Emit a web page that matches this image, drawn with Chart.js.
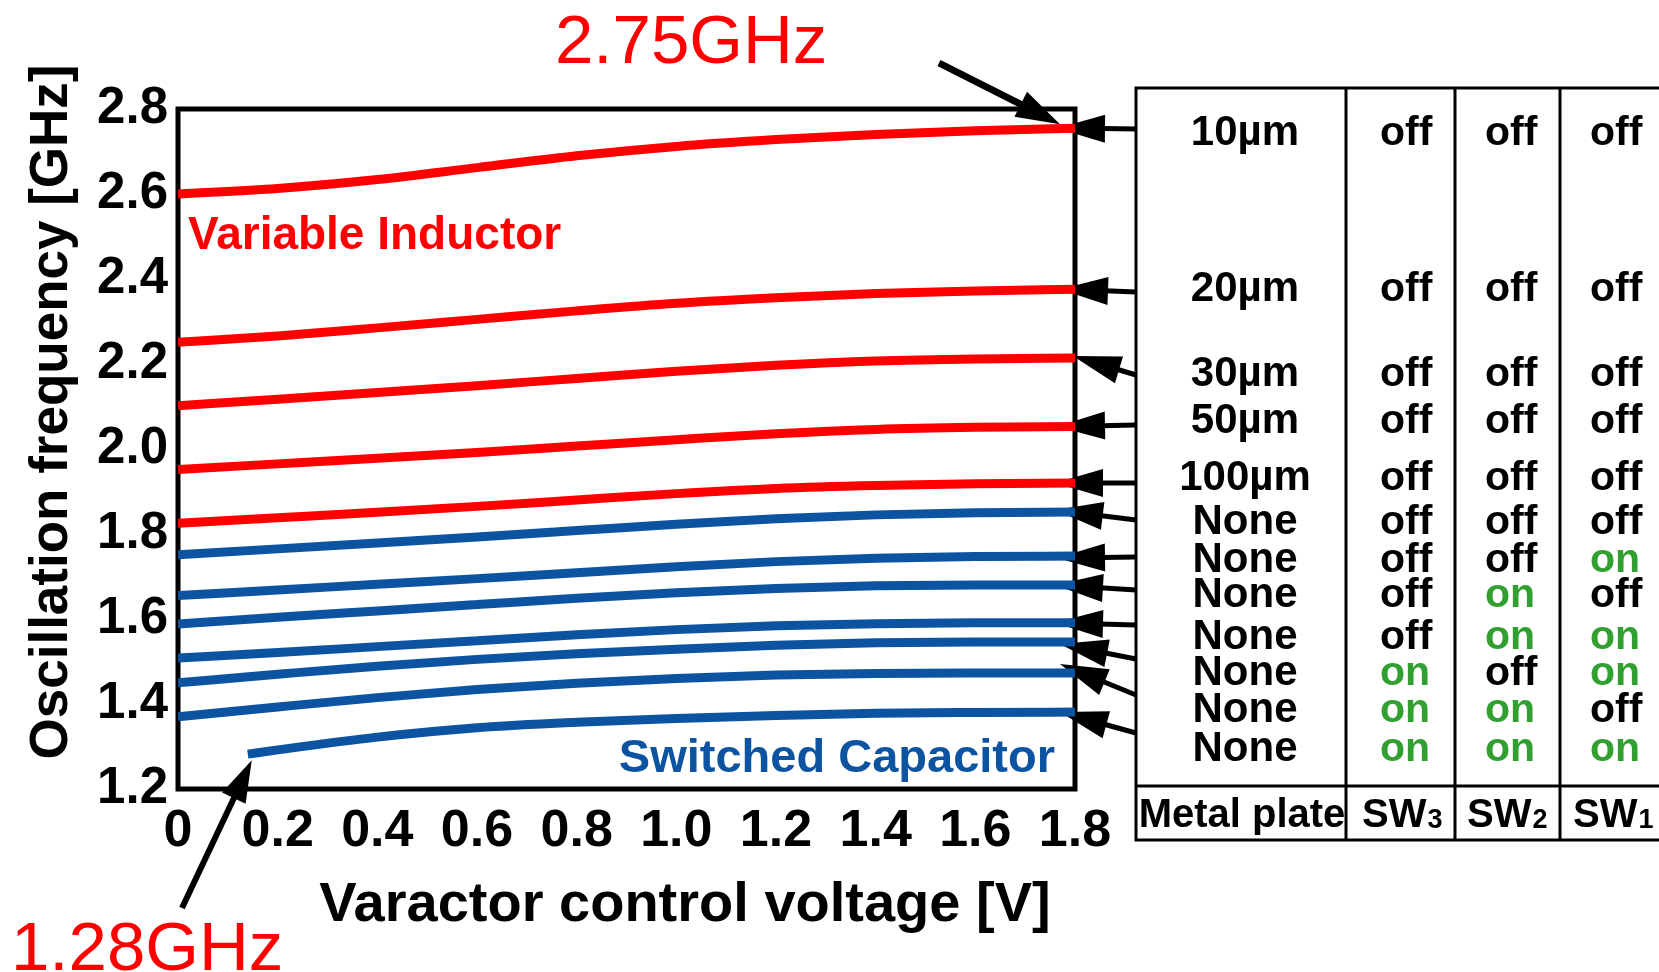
<!DOCTYPE html>
<html><head><meta charset="utf-8">
<script src="https://cdn.jsdelivr.net/npm/chart.js@4.4.0/dist/chart.umd.min.js"></script>
<style>html,body{margin:0;padding:0;background:#fff;overflow:hidden}canvas{display:block}</style>
</head><body>
<canvas id="c" width="1659" height="972"></canvas>
<script>
// ---------- data ----------
const voltage = [0, 0.2, 0.4, 0.6, 0.8, 1.0, 1.2, 1.4, 1.6, 1.8];
const voltageSC111 = [0.14, 0.2, 0.4, 0.6, 0.8, 1.0, 1.2, 1.4, 1.6, 1.8];
const f10um  = [2.600, 2.613, 2.634, 2.662, 2.690, 2.712, 2.728, 2.740, 2.749, 2.755];
const f20um  = [2.251, 2.266, 2.285, 2.305, 2.325, 2.343, 2.356, 2.366, 2.372, 2.376];
const f30um  = [2.102, 2.117, 2.133, 2.149, 2.166, 2.183, 2.197, 2.207, 2.212, 2.214];
const f50um  = [1.952, 1.965, 1.978, 1.992, 2.007, 2.022, 2.036, 2.046, 2.051, 2.053];
const f100um = [1.825, 1.838, 1.851, 1.865, 1.880, 1.895, 1.907, 1.914, 1.918, 1.920];
const fSC000 = [1.751, 1.765, 1.779, 1.793, 1.808, 1.823, 1.836, 1.845, 1.850, 1.852];
const fSC001 = [1.655, 1.668, 1.682, 1.695, 1.709, 1.723, 1.735, 1.743, 1.747, 1.748];
const fSC010 = [1.588, 1.604, 1.619, 1.634, 1.649, 1.662, 1.672, 1.678, 1.680, 1.680];
const fSC011 = [1.508, 1.521, 1.535, 1.549, 1.563, 1.575, 1.584, 1.589, 1.591, 1.591];
const fSC101 = [1.450, 1.470, 1.489, 1.505, 1.518, 1.529, 1.538, 1.544, 1.546, 1.546];
const fSC110 = [1.370, 1.393, 1.415, 1.434, 1.449, 1.460, 1.468, 1.472, 1.473, 1.473];
const fSC111 = [1.282, 1.292, 1.322, 1.344, 1.357, 1.366, 1.373, 1.378, 1.380, 1.381];

const xTickValues = [0, 0.2, 0.4, 0.6, 0.8, 1.0, 1.2, 1.4, 1.6, 1.8];
const xTickLabels = ['0', '0.2', '0.4', '0.6', '0.8', '1.0', '1.2', '1.4', '1.6', '1.8'];
const yTickValues = [1.2, 1.4, 1.6, 1.8, 2.0, 2.2, 2.4, 2.6, 2.8];
const yTickLabels = ['1.2', '1.4', '1.6', '1.8', '2.0', '2.2', '2.4', '2.6', '2.8'];

const metalPlate = ['10µm', '20µm', '30µm', '50µm', '100µm', 'None', 'None', 'None', 'None', 'None', 'None', 'None'];
const sw3 = ['off','off','off','off','off','off','off','off','off','on','on','on'];
const sw2 = ['off','off','off','off','off','off','off','on','on','off','on','on'];
const sw1 = ['off','off','off','off','off','off','on','off','on','on','off','on'];
const tableHeader = ['Metal plate', 'SW', 'SW', 'SW'];
const headerSub = ['', '3', '2', '1'];

const annTop = '2.75GHz';
const annBottom = '1.28GHz';
const labelVI = 'Variable Inductor';
const labelSC = 'Switched Capacitor';
const xTitle = 'Varactor control voltage [V]';
const yTitle = 'Oscillation frequency [GHz]';

// ---------- style / layout ----------
const RED = '#ff0000', BLUE = '#0c53a2', GREEN = '#31a031';
const FONT = '"Liberation Sans", Arial, Helvetica, sans-serif';
const rowY = [131, 287, 372, 419, 476, 520, 558, 593, 635, 671, 708, 747];
const arrowTailY = [129, 292, 375, 425, 483, 520, 557, 590, 625, 659, 695, 733];
const arrowTipInset = [18, 15, 2, 18, 20, 20, 18, 20, 20, 15, 15, 15];
const arrowTipDy = [0, 0, -2, 0, 0, -2, 2, 0, 0, 2, -9, 0];
const TB = {left: 1136, top: 88, right: 1664, bottom: 840, headerY: 786, cols: [1346, 1455, 1560]};
const colText = {c0: 1245, sw: [1380, 1485, 1590], hdr: [1362, 1467, 1573]};

const mk = (xs, ys) => ys.map((y, i) => ({x: xs[i], y}));
const series = [
  {d: mk(voltage, f10um), c: RED}, {d: mk(voltage, f20um), c: RED}, {d: mk(voltage, f30um), c: RED},
  {d: mk(voltage, f50um), c: RED}, {d: mk(voltage, f100um), c: RED},
  {d: mk(voltage, fSC000), c: BLUE}, {d: mk(voltage, fSC001), c: BLUE}, {d: mk(voltage, fSC010), c: BLUE},
  {d: mk(voltage, fSC011), c: BLUE}, {d: mk(voltage, fSC101), c: BLUE}, {d: mk(voltage, fSC110), c: BLUE},
  {d: mk(voltageSC111, fSC111), c: BLUE}
];

function arrow(ctx, x0, y0, x1, y1, lw, headLen, headHalf) {
  const dx = x1 - x0, dy = y1 - y0, L = Math.hypot(dx, dy), ux = dx / L, uy = dy / L;
  const bx = x1 - ux * headLen, by = y1 - uy * headLen;
  ctx.save();
  ctx.strokeStyle = '#000'; ctx.fillStyle = '#000'; ctx.lineWidth = lw; ctx.lineCap = 'butt';
  ctx.beginPath(); ctx.moveTo(x0, y0); ctx.lineTo(bx + ux * 3, by + uy * 3); ctx.stroke();
  ctx.beginPath(); ctx.moveTo(x1, y1);
  ctx.lineTo(bx - uy * headHalf, by + ux * headHalf);
  ctx.lineTo(bx + uy * headHalf, by - ux * headHalf);
  ctx.closePath(); ctx.fill();
  ctx.restore();
}

const deco = {
  id: 'deco',
  beforeDatasetsDraw(chart) {
    const {ctx, chartArea: a, scales: {x, y}} = chart;
    ctx.save();
    ctx.strokeStyle = '#000'; ctx.lineWidth = 5;
    ctx.strokeRect(a.left, a.top, a.right - a.left, a.bottom - a.top);
    ctx.restore();
    series.forEach((s, i) => {
      const last = s.d[s.d.length - 1];
      const tx = x.getPixelForValue(last.x) - arrowTipInset[i];
      const ty = y.getPixelForValue(last.y) + arrowTipDy[i];
      arrow(ctx, TB.left, arrowTailY[i], tx, ty, 5, 48, 14);
    });
    const l0 = series[0].d[series[0].d.length - 1];
    arrow(ctx, 939, 63, x.getPixelForValue(l0.x) - 15, y.getPixelForValue(l0.y) - 4, 7, 44, 14);
  },
  afterDatasetsDraw(chart) {
    const {ctx, chartArea: a, scales: {x, y}} = chart;
    ctx.save();
    ctx.fillStyle = '#000';
    ctx.font = 'bold 56px ' + FONT; ctx.textAlign = 'center'; ctx.textBaseline = 'alphabetic';
    ctx.fillText(xTitle, 685, 921);
    ctx.save();
    ctx.translate(67, 412); ctx.rotate(-Math.PI / 2);
    ctx.font = 'bold 53px ' + FONT;
    ctx.fillText(yTitle, 0, 0);
    ctx.restore();
    ctx.textAlign = 'left';
    ctx.fillStyle = RED; ctx.font = '69px ' + FONT;
    ctx.fillText(annTop, 555, 63);
    ctx.fillText(annBottom, 11, 970);
    ctx.font = 'bold 46px ' + FONT;
    ctx.fillText(labelVI, 188, 249);
    ctx.fillStyle = BLUE; ctx.font = 'bold 47px ' + FONT; ctx.textAlign = 'right';
    ctx.fillText(labelSC, 1055, 772);
    const f = series[11].d[0];
    arrow(ctx, 182, 908, x.getPixelForValue(f.x) + 4, y.getPixelForValue(f.y) + 6, 6, 42, 13);
    // table
    ctx.strokeStyle = '#000'; ctx.lineWidth = 3;
    ctx.beginPath();
    ctx.moveTo(TB.right, TB.top); ctx.lineTo(TB.left, TB.top); ctx.lineTo(TB.left, TB.bottom); ctx.lineTo(TB.right, TB.bottom);
    ctx.moveTo(TB.left, TB.headerY); ctx.lineTo(TB.right, TB.headerY);
    TB.cols.forEach(cx => { ctx.moveTo(cx, TB.top); ctx.lineTo(cx, TB.bottom); });
    ctx.stroke();
    ctx.textBaseline = 'alphabetic';
    metalPlate.forEach((t, i) => {
      const by = rowY[i] + 14;
      ctx.fillStyle = '#000'; ctx.textAlign = 'center';
      ctx.font = 'bold 42px ' + FONT;
      ctx.fillText(t, colText.c0, by);
      ctx.textAlign = 'left';
      ctx.font = 'bold 41px ' + FONT;
      [sw3[i], sw2[i], sw1[i]].forEach((v, k) => {
        ctx.fillStyle = v === 'on' ? GREEN : '#000';
        ctx.fillText(v, colText.sw[k], by);
      });
    });
    ctx.fillStyle = '#000';
    ctx.font = 'bold 40px ' + FONT; ctx.textAlign = 'center';
    ctx.fillText(tableHeader[0], 1242, 827);
    ctx.textAlign = 'left';
    for (let k = 1; k < 4; k++) {
      ctx.font = 'bold 40px ' + FONT;
      ctx.fillText(tableHeader[k], colText.hdr[k - 1], 827);
      const w = ctx.measureText(tableHeader[k]).width;
      ctx.font = 'bold 27px ' + FONT;
      ctx.fillText(headerSub[k], colText.hdr[k - 1] + w + 1, 828);
    }
    ctx.restore();
  }
};

new Chart(document.getElementById('c'), {
  type: 'line',
  data: {
    datasets: series.map((s, i) => ({
      label: 'S' + i, data: s.d, borderColor: s.c, backgroundColor: s.c,
      borderWidth: 9, pointRadius: 0, fill: false, cubicInterpolationMode: 'monotone'
    }))
  },
  options: {
    responsive: false, animation: false, devicePixelRatio: 1,
    layout: {padding: {left: 0, top: 109, right: 584, bottom: 0}},
    plugins: {legend: {display: false}, tooltip: {enabled: false}},
    scales: {
      x: {
        type: 'linear', min: 0, max: 1.8,
        grid: {display: false, drawTicks: false}, border: {display: false},
        afterBuildTicks: s => { s.ticks = xTickValues.map(v => ({value: v})); },
        afterFit: s => { s.height = 183; },
        ticks: {padding: 11, color: '#000', font: {family: FONT, weight: 'bold', size: 52},
                maxRotation: 0, autoSkip: false, callback: (v, i) => xTickLabels[i]}
      },
      y: {
        type: 'linear', min: 1.2, max: 2.8,
        grid: {display: false, drawTicks: false}, border: {display: false},
        afterBuildTicks: s => { s.ticks = yTickValues.map(v => ({value: v})); },
        afterFit: s => { s.width = 178; },
        ticks: {padding: 10, color: '#000', font: {family: FONT, weight: 'bold', size: 51},
                autoSkip: false, callback: (v, i) => yTickLabels[i]}
      }
    }
  },
  plugins: [deco]
});
</script>
</body></html>
